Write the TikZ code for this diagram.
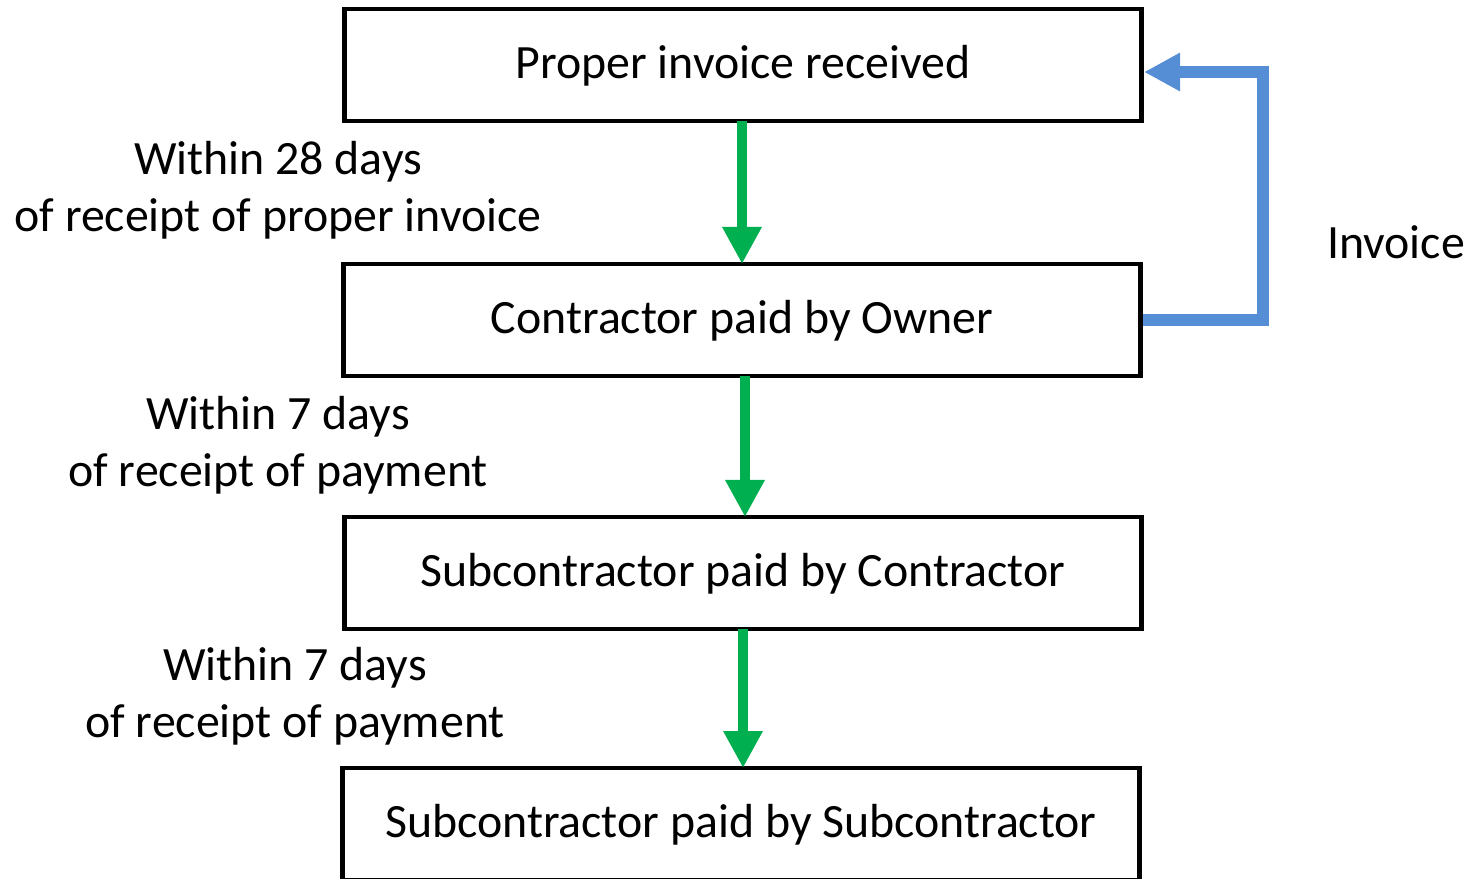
\documentclass[tikz,border=0pt]{standalone}
\usepackage{fontspec}
\setmainfont{Carlito}
\usetikzlibrary{arrows.meta,positioning,calc}

\definecolor{flowgreen}{RGB}{0,176,80}
\definecolor{backblue}{RGB}{85,142,213}

\begin{document}
\begin{tikzpicture}[x=0.01cm,y=-0.01cm,
  box/.style={draw,line width=1.3pt,minimum width=7.97cm,minimum height=1.12cm,text height=10.4pt,text depth=2.7pt,font=\fontsize{13.6}{16}\selectfont},
  flow/.style={-{Triangle[length=0.37cm,width=0.37cm]},line width=2.9pt,flowgreen},
  back/.style={-{Triangle[length=0.36cm,width=0.36cm]},line width=3.3pt,backblue,line join=miter},
  lab/.style={align=center,font=\fontsize{13.6}{16.2}\selectfont,inner sep=0pt}]
  \useasboundingbox (0,0) rectangle (1477,878);
  \clip (0,0) rectangle (1477,878);
  % the four steps
  \node[box] (recv) at (743,65) {Proper invoice received};
  \node[box] (pay) at (742,320) {Contractor paid by Owner};
  \node[box] (sub) at (743,573) {Subcontractor paid by Contractor};
  \node[box] (subsub) at (741,824) {Subcontractor paid by Subcontractor};
  % time limits
  \draw[flow] (742,121) -- (742,264);
  \draw[flow] (745,376) -- (745,517);
  \draw[flow] (743,629) -- (743,768);
  \node[lab] (t1) at (278,190) {Within 28 days\\of receipt of proper invoice};
  \node[lab] (t2) at (278,445) {Within 7 days\\of receipt of payment};
  \node[lab] (t3) at (295,696) {Within 7 days\\of receipt of payment};
  % invoice loop
  \draw[back] (pay.east) -- ++(120,0) |- ([yshift=-0.07cm]recv.east);
  \node[lab] (inv) at (1396,242) {Invoice};
\end{tikzpicture}
\end{document}
